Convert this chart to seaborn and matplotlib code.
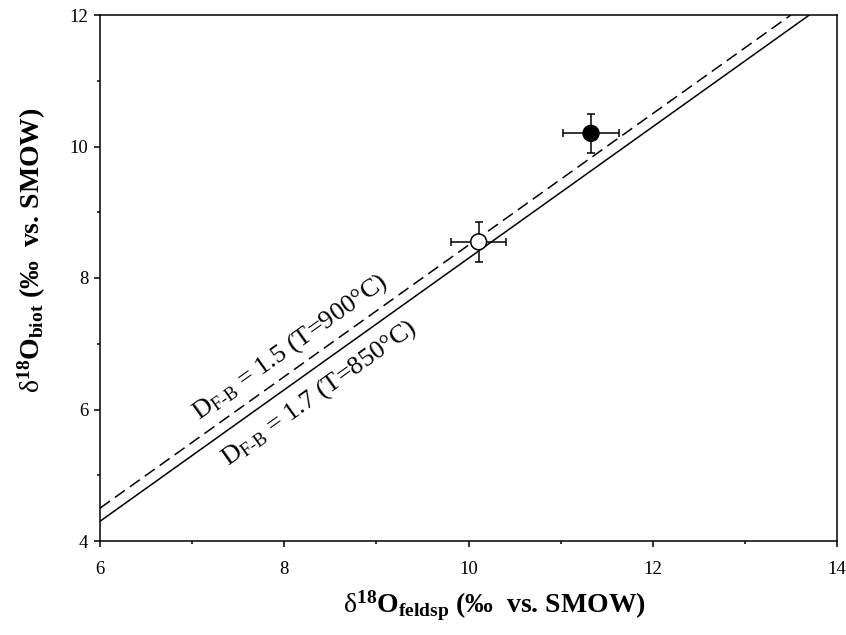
import matplotlib
matplotlib.use("Agg")
import matplotlib.pyplot as plt
import pandas as pd
import seaborn as sns

# samples: feldspar vs biotite d18O, with 1-sigma errors
feldsp = [11.33, 10.11]
biot = [10.20, 8.55]
feldsp_err = [0.30, 0.30]
biot_err = [0.30, 0.30]
sample_fill = ["black", "white"]

# isotherm lines, end points
iso_900_x = [6.0, 13.5]
iso_900_y = [4.5, 12.0]
iso_850_x = [6.0, 13.7]
iso_850_y = [4.3, 12.0]

label_900 = r"D$_{\text{F-B}}$ = 1.5 (T=900°C)"
label_850 = r"D$_{\text{F-B}}$ = 1.7 (T=850°C)"

sns.set_style("ticks")
plt.rcParams["font.family"] = ["Liberation Serif", "DejaVu Serif"]
plt.rcParams["mathtext.fontset"] = "custom"
plt.rcParams["mathtext.rm"] = "Liberation Serif"
plt.rcParams["mathtext.bf"] = "Liberation Serif:bold"
plt.rcParams["mathtext.it"] = "Liberation Serif:italic"
plt.rcParams["text.color"] = "black"
plt.rcParams["axes.labelcolor"] = "black"
plt.rcParams["xtick.color"] = "black"
plt.rcParams["ytick.color"] = "black"

fig = plt.figure(figsize=(8.46, 6.35), dpi=100)
ax = fig.add_axes([100 / 846, 94 / 635, 737 / 846, 526 / 635])

df_900 = pd.DataFrame({"x": iso_900_x, "y": iso_900_y})
df_850 = pd.DataFrame({"x": iso_850_x, "y": iso_850_y})
sns.lineplot(data=df_900, x="x", y="y", ax=ax, color="black", lw=1.1,
             linestyle=(0, (8, 4)))
sns.lineplot(data=df_850, x="x", y="y", ax=ax, color="black", lw=1.1)

ax.errorbar(feldsp, biot, xerr=feldsp_err, yerr=biot_err, fmt="none",
            ecolor="black", elinewidth=1.1, capsize=3, capthick=1.1, zorder=3)
pts = pd.DataFrame({"x": feldsp, "y": biot, "fill": sample_fill})
sns.scatterplot(data=pts, x="x", y="y", hue="fill",
                palette={"black": "black", "white": "white"},
                edgecolor="black", linewidth=1.1, s=130, legend=False,
                ax=ax, zorder=4)

# labels along the lines
ax.text(8.06, 6.95, label_900, rotation=35.5, rotation_mode="anchor",
        ha="center", va="center", fontsize=19)
ax.text(8.38, 6.25, label_850, rotation=35.5, rotation_mode="anchor",
        ha="center", va="center", fontsize=19)

ax.set_xlim(6, 14)
ax.set_ylim(4, 12)
ax.set_xticks([6, 8, 10, 12, 14])
ax.set_yticks([4, 6, 8, 10, 12])
ax.set_xticks([7, 9, 11, 13], minor=True)
ax.set_yticks([5, 7, 9, 11], minor=True)
ax.tick_params(axis="both", which="major", direction="out", length=4.5,
               width=1.1, labelsize=13.5)
ax.tick_params(axis="both", which="minor", direction="out", length=2.5,
               width=1.1)
ax.tick_params(axis="x", which="major", pad=10)
ax.tick_params(axis="y", which="major", pad=4)
for sp in ax.spines.values():
    sp.set_linewidth(1.1)
    sp.set_color("black")

ax.set_xlabel(r"$\mathrm{δ}^{\mathbf{18}}\mathbf{O}_{\mathbf{feldsp}}$ (‰  vs. SMOW)",
              fontsize=20, fontweight="bold")
ax.set_ylabel(r"$\mathrm{δ}^{\mathbf{18}}\mathbf{O}_{\mathbf{biot}}$ (‰  vs. SMOW)",
              fontsize=20, fontweight="bold")
ax.xaxis.set_label_coords(0.535, -0.09)
ax.yaxis.set_label_coords(-0.07, 0.553)

fig.savefig("out.png", dpi=100)
